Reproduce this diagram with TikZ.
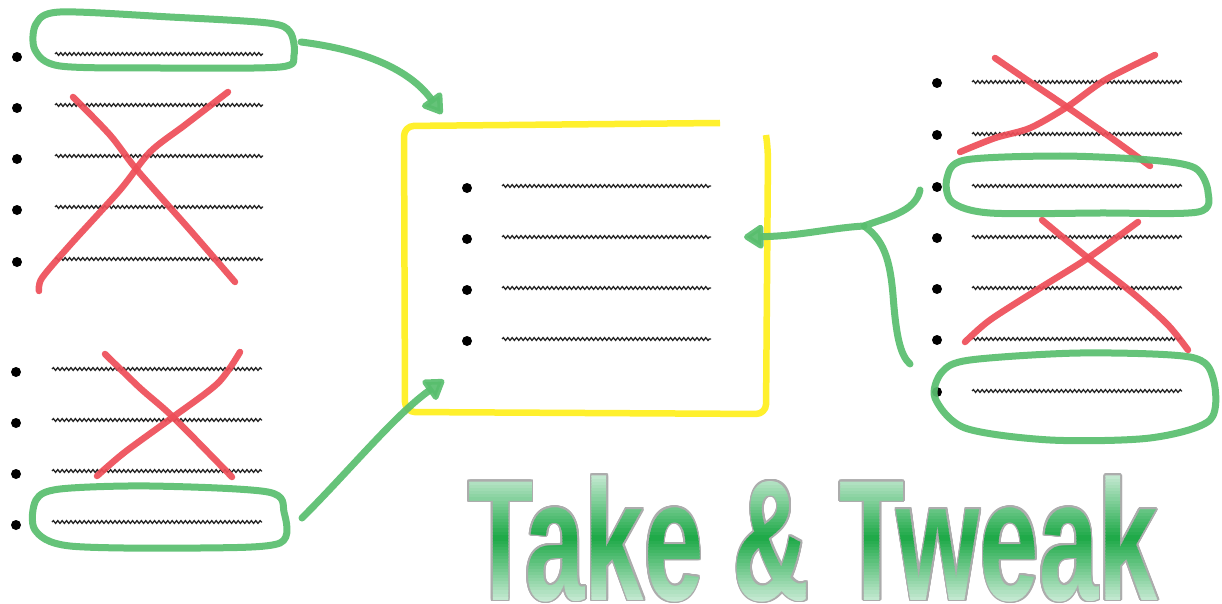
\documentclass[tikz,border=0pt]{standalone}
\usepackage{fontspec}
\setmainfont{Liberation Sans}
\usetikzlibrary{decorations.pathmorphing,arrows.meta,calc}
\definecolor{mkgreen}{RGB}{88,190,110}
\definecolor{mkred}{RGB}{238,78,88}
\definecolor{mkyellow}{RGB}{255,240,45}
\definecolor{mint}{RGB}{214,240,224}
\definecolor{tgreen}{RGB}{28,168,70}
\newcommand\tweaktitle{\scalebox{0.62}[1]{\fontsize{172}{172}\selectfont\bfseries Take \& Tweak}}
\tikzset{
  titletext/.style={inner sep=0pt, text height=124pt, text depth=0pt},
  wave/.style={draw=black!85, line width=1.3pt, decorate, decoration={snake, segment length=4.4pt, amplitude=1.4pt}},
  bul/.style={circle, fill=black, inner sep=0pt, minimum size=10pt},
  gstroke/.style={draw=mkgreen, line width=7pt, line cap=round, line join=round, opacity=0.92},
  rstroke/.style={draw=mkred, line width=6.5pt, line cap=round, line join=round, opacity=0.92},
  ystroke/.style={draw=mkyellow, line width=6.5pt, line join=round},
  ghead/.style={-{Triangle[length=22pt,width=27pt,round]}},
}
\begin{document}
\begin{tikzpicture}[x=1pt,y=-1pt]
\useasboundingbox (0,0) rectangle (1222,604);
\fill[white] (0,0) rectangle (1222,604);

% ---- bullets and wavy lines ----
\foreach \y [count=\i] in {57,108,159,210,262} {
  \node[bul] (LA\i) at (17,\y) {};
  \draw[wave] ($(LA\i)+(38,-3)$) -- ++(208,0);
}
\foreach \y [count=\i] in {372,423,474,525} {
  \node[bul] (LB\i) at (16,\y) {};
  \draw[wave] ($(LB\i)+(36,-3)$) -- ++(210,0);
}
\foreach \y [count=\i] in {188,239,290,341} {
  \node[bul] (C\i) at (467,\y) {};
  \draw[wave] ($(C\i)+(35,-2)$) -- ++(209,0);
}
\foreach \y [count=\i] in {83,135,187,238,289,340,392} {
  \node[bul] (R\i) at (937,\y) {};
  \draw[wave] ($(R\i)+(35,-1)$) -- ++(210,0);
}

% ---- yellow box ----
\draw[ystroke, rounded corners=10pt] (720,123) -- (404,126) -- (405,412) -- (766,414) -- (768,150) -- (766,135);

% ---- red crosses ----
\draw[rstroke] plot[smooth] coordinates {(73,97) (110,135) (137,170) (190,230) (235,282)};
\draw[rstroke] plot[smooth] coordinates {(228,92) (185,125) (150,152) (120,190) (70,245) (42,278) (39,291)};
\draw[rstroke] plot[smooth] coordinates {(105,354) (140,388) (173,417) (232,477)};
\draw[rstroke] plot[smooth] coordinates {(240,352) (218,383) (173,417) (125,452) (97,476)};
\draw[rstroke] plot[smooth] coordinates {(995,58) (1030,82) (1067,107) (1110,137) (1150,166)};
\draw[rstroke] plot[smooth] coordinates {(1155,55) (1105,80) (1067,107) (1030,128) (995,138) (960,152)};
\draw[rstroke] plot[smooth] coordinates {(1042,220) (1088,258) (1135,295) (1168,325) (1188,350)};
\draw[rstroke] plot[smooth] coordinates {(1138,222) (1088,258) (1040,288) (990,320) (965,342)};

% ---- green loops ----
\draw[gstroke] plot[smooth cycle] coordinates {(60,12) (170,17) (268,23) (290,32) (294,55) (280,67) (160,68) (60,66) (35,50) (36,24)};
\draw[gstroke] plot[smooth cycle] coordinates {(60,489) (150,486) (268,492) (284,512) (280,543) (200,548) (70,546) (35,530) (36,500)};
\draw[gstroke] plot[smooth cycle] coordinates {(965,160) (1060,156) (1150,160) (1195,168) (1208,192) (1198,212) (1100,213) (990,213) (952,202) (947,178)};
\draw[gstroke] plot[smooth cycle] coordinates {(970,360) (1080,353) (1190,357) (1213,378) (1210,420) (1150,438) (1050,440) (965,428) (935,398) (942,372)};

% ---- green arrows ----
\coordinate (s1) at (301,42);
\coordinate (t1) at (442,114);
\draw[gstroke, ghead] (s1) .. controls (365,50) and (410,70) .. (t1);
\coordinate (s2) at (302,518);
\coordinate (t2) at (444,380);
\draw[gstroke, ghead] (s2) .. controls (350,470) and (395,415) .. (t2);
\coordinate (br) at (864,226);
\coordinate (t3) at (744,237);
\draw[gstroke] (920,190) .. controls (916,212) and (885,218) .. (br)
  .. controls (884,240) and (890,260) .. (893,295) .. controls (896,335) and (900,355) .. (910,364);
\draw[gstroke, ghead] (br) .. controls (830,228) and (800,236) .. (t3);

% ---- title: gray outline, then banded vertical gradient ----
\node[titletext, text=gray!65] (title) at (813,538) {\tweaktitle};
\foreach \a in {0,20,...,340}
  \node[titletext, text=gray!65] at ($(title.center)+(\a:1.7)$) {\tweaktitle};
\foreach \k in {0,...,43} {
  \pgfmathsetmacro\ya{470+\k*3.1}
  \pgfmathsetmacro\yb{\ya+3.5}
  \pgfmathsetmacro\p{100*(1-abs(2*(\k+0.5)/44-1))}
  \colorlet{bandc}{tgreen!\p!mint}
  \begin{scope}
    \clip (400,\ya) rectangle (1222,\yb);
    \node[titletext, text=bandc] at (title.center) {\tweaktitle};
  \end{scope}
}
\end{tikzpicture}
\end{document}
